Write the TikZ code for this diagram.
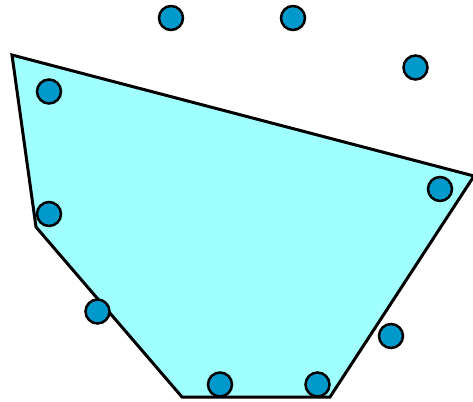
\documentclass[tikz,border=0pt]{standalone}
\definecolor{hullfill}{RGB}{160,255,255}
\definecolor{ptfill}{RGB}{0,153,204}
\begin{document}
\begin{tikzpicture}[x=1pt,y=-1pt,
  pt/.style={circle,draw=black,line width=2.5pt,fill=ptfill,minimum size=24pt,inner sep=0pt},
  hull/.style={draw=black,line width=3pt,fill=hullfill,line join=miter}]
\useasboundingbox (0,0) rectangle (473,401);
\begin{scope}
\clip (0,0) rectangle (473,401);
\coordinate (v1) at (12,55);
\coordinate (v2) at (474,176);
\coordinate (v3) at (330,397);
\coordinate (v4) at (182,397);
\coordinate (v5) at (36,227);
\path[hull] (v1) -- (v2) -- (v3) -- (v4) -- (v5) -- cycle;
\end{scope}
\node[pt] (p1) at (171,18) {};
\node[pt] (p2) at (293,18) {};
\node[pt] (p3) at (415.5,67.5) {};
\node[pt] (p4) at (49,91.5) {};
\node[pt] (p5) at (440,189) {};
\node[pt] (p6) at (49,214) {};
\node[pt] (p7) at (97.5,311.5) {};
\node[pt] (p8) at (391,336) {};
\node[pt] (p9) at (220,384.5) {};
\node[pt] (p10) at (317.5,384.5) {};
\end{tikzpicture}
\end{document}
